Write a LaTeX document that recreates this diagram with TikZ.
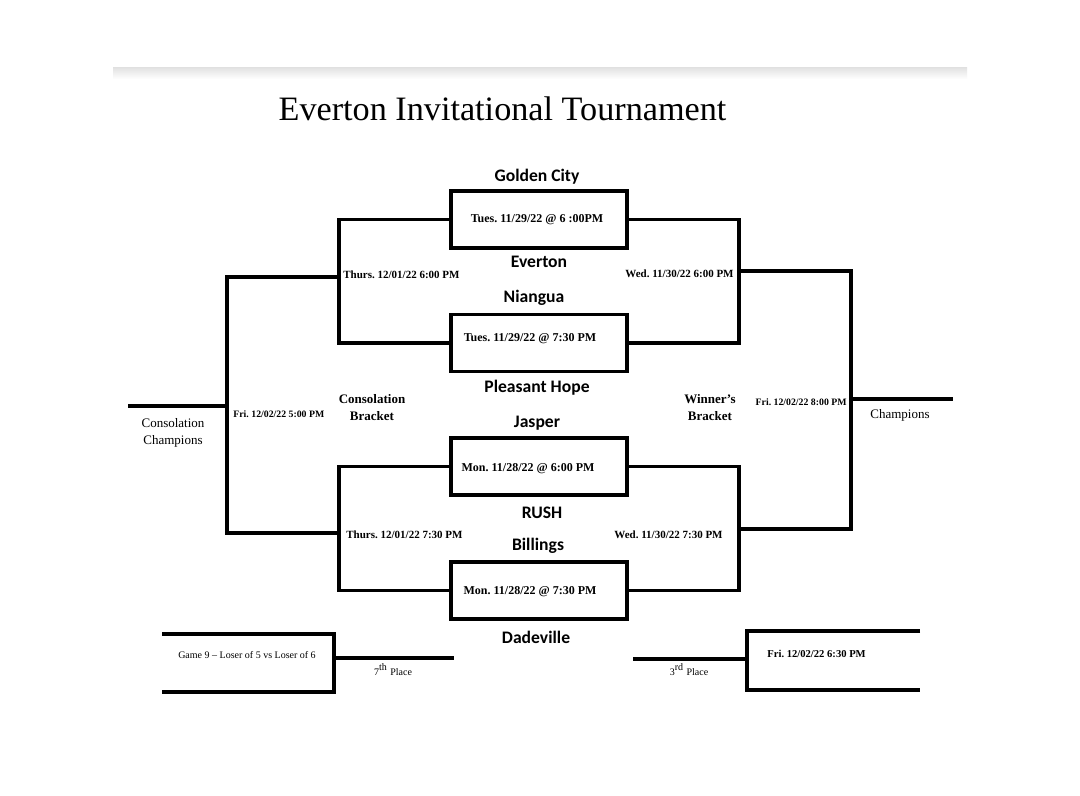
\documentclass[tikz,border=0pt]{standalone}
\usepackage{fontspec}
\setmainfont{Liberation Serif}
\newfontfamily\teamfont{Carlito}
\frenchspacing
\begin{document}
\begin{tikzpicture}[x=0.5pt,y=-0.5pt,
  bl/.style={line width=1.7pt, line join=miter},
  gamebox/.style={draw, line width=1.7pt, minimum width=88pt, minimum height=28.5pt, inner sep=0pt},
  team/.style={font=\teamfont\bfseries\fontsize{8.8}{10}\selectfont, anchor=base, inner sep=0pt},
  boxdate/.style={font=\bfseries\fontsize{6}{7}\selectfont, anchor=base, inner sep=0pt},
  rounddate/.style={font=\bfseries\fontsize{5.5}{6.5}\selectfont, inner sep=0pt},
  finaldate/.style={font=\bfseries\fontsize{4.9}{6}\selectfont, inner sep=0pt},
  brk/.style={font=\bfseries\fontsize{6.5}{7.5}\selectfont, anchor=base, inner sep=0pt},
  plain/.style={font=\fontsize{6.5}{7.5}\selectfont, anchor=base, inner sep=0pt},
  small/.style={font=\fontsize{5}{6}\selectfont, anchor=base, inner sep=0pt}]
\useasboundingbox[fill=white] (0,0) rectangle (1080,796);
\shade[top color=black!11, bottom color=white] (113,68) rectangle (967,79);

% title
\node[font=\fontsize{17.1}{18}\selectfont, anchor=base, inner sep=0pt] (title) at (502.5,121) {Everton Invitational Tournament};

% game boxes
\node[gamebox] (b1) at (539,219.5) {};
\node[gamebox] (b2) at (539,343) {};
\node[gamebox] (b3) at (539,466.5) {};
\node[gamebox] (b4) at (539,590.5) {};

\node[boxdate] (t1) at (537,223) {Tues. 11/29/22 @ 6 :00PM};
\node[boxdate] (t2) at (530,342) {Tues. 11/29/22 @ 7:30 PM};
\node[boxdate] (t3) at (528,471) {Mon. 11/28/22 @ 6:00 PM};
\node[boxdate] (t4) at (530,594) {Mon. 11/28/22 @ 7:30 PM};

% team names
\node[team] (golden) at (537,182) {Golden City};
\node[team] (everton) at (539,268) {Everton};
\node[team] (niangua) at (534,303) {Niangua};
\node[team] (pleasant) at (537,392) {Pleasant Hope};
\node[team] (jasper) at (537,427) {Jasper};
\node[team] (rush) at (542,518) {RUSH};
\node[team] (billings) at (538,550) {Billings};
\node[team] (dadeville) at (536,643) {Dadeville};

% bracket coordinates
\coordinate (ql1) at (339,277);
\coordinate (ql2) at (339,533);
\coordinate (qr1) at (739,271);
\coordinate (qr2) at (739,529);
\coordinate (cons) at (227,406);
\coordinate (consend) at (128,406);
\coordinate (win) at (851,399);
\coordinate (winend) at (953,399);

% first round to second round
\draw[bl] (b1.west) -| (ql1) |- (b2.west);
\draw[bl] (b3.west) -| (ql2) |- (b4.west);
\draw[bl] (b1.east) -| (qr1) |- (b2.east);
\draw[bl] (b3.east) -| (qr2) |- (b4.east);

% finals
\draw[bl] (ql1) -| (cons) |- (ql2);
\draw[bl] (consend) -- (cons);
\draw[bl] (qr1) -| (win) |- (qr2);
\draw[bl] (win) -- (winend);

% round labels
\node[rounddate, anchor=base west] (thu1) at (343,279) {Thurs. 12/01/22 6:00 PM};
\node[rounddate, anchor=base east] (wed1) at (734,278) {Wed. 11/30/22 6:00 PM};
\node[rounddate, anchor=base west] (thu2) at (346,538) {Thurs. 12/01/22 7:30 PM};
\node[rounddate, anchor=base east] (wed2) at (723,538) {Wed. 11/30/22 7:30 PM};
\node[finaldate, anchor=base west] (fri1) at (233,417) {Fri. 12/02/22 5:00 PM};
\node[finaldate, anchor=base east] (fri2) at (847,405) {Fri. 12/02/22 8:00 PM};

\node[brk] (consa) at (372,403) {Consolation};
\node[brk] (consb) at (372,420) {Bracket};
\node[brk] (wina) at (710,403) {Winner’s};
\node[brk] (winb) at (710,420) {Bracket};

\node[plain] (cchampa) at (173,427) {Consolation};
\node[plain] (cchampb) at (173,444) {Champions};
\node[plain] (champ) at (900,418) {Champions};

% 7th place game
\coordinate (s1) at (162,634);
\coordinate (s2) at (334,634);
\coordinate (s3) at (334,692);
\coordinate (s4) at (162,692);
\coordinate (s5) at (334,658);
\coordinate (s6) at (454,658);
\draw[bl] (s1) -- (s2) -- (s3) -- (s4);
\draw[bl] (s5) -- (s6);
\node[small] (g9) at (247,658) {Game 9 – Loser of 5 vs Loser of 6};
\node[small] (seventh) at (393,675) {7\textsuperscript{th} Place};

% 3rd place game
\coordinate (r1) at (920,631);
\coordinate (r2) at (747,631);
\coordinate (r3) at (747,690);
\coordinate (r4) at (920,690);
\coordinate (r5) at (747,659);
\coordinate (r6) at (633,659);
\draw[bl] (r1) -- (r2) -- (r3) -- (r4);
\draw[bl] (r5) -- (r6);
\node[font=\bfseries\fontsize{5.3}{6.3}\selectfont, anchor=base west, inner sep=0pt] (fri3) at (767,657) {Fri. 12/02/22 6:30 PM};
\node[small] (third) at (689,675) {3\textsuperscript{rd} Place};
\end{tikzpicture}
\end{document}
